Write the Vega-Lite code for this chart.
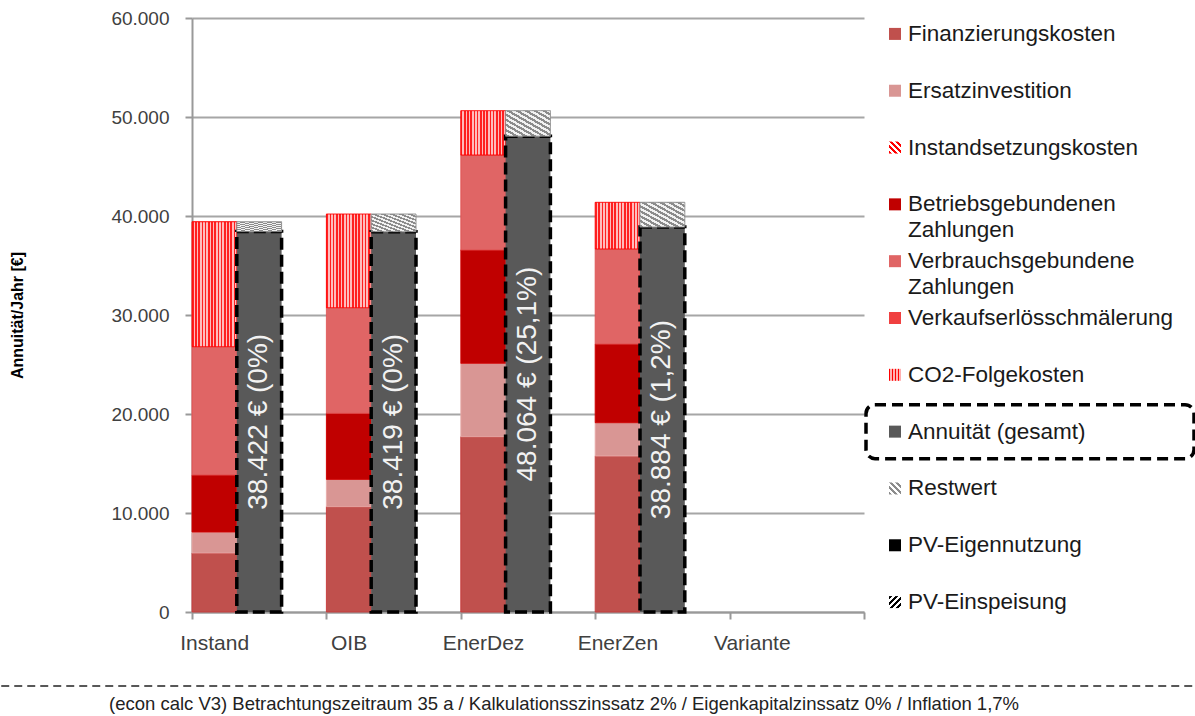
{
  "$schema": "https://vega.github.io/schema/vega-lite/v6.json",
  "padding": {"left": 0, "top": 9, "right": 0, "bottom": 0},
  "background": "white",
  "config": {
    "font": "Liberation Sans",
    "view": {"stroke": null},
    "locale": {"number": {"decimal": ",", "thousands": ".", "grouping": [3], "currency": ["", " €"]}}
  },
  "datasets": {
    "kosten": [
      {"variante": "Instand", "gruppe": "Kosten", "kategorie": "Finanzierungskosten", "nr": 1, "wert": 5960},
      {"variante": "Instand", "gruppe": "Kosten", "kategorie": "Ersatzinvestition", "nr": 2, "wert": 2120},
      {"variante": "Instand", "gruppe": "Kosten", "kategorie": "Betriebsgebundenen Zahlungen", "nr": 4, "wert": 5760},
      {"variante": "Instand", "gruppe": "Kosten", "kategorie": "Verbrauchsgebundene Zahlungen", "nr": 5, "wert": 12960},
      {"variante": "Instand", "gruppe": "Kosten", "kategorie": "CO2-Folgekosten", "nr": 7, "wert": 12620},
      {"variante": "Instand", "gruppe": "Annuität", "kategorie": "Annuität (gesamt)", "nr": 8, "wert": 38422, "label": "38.422 € (0%)"},
      {"variante": "Instand", "gruppe": "Annuität", "kategorie": "Restwert", "nr": 9, "wert": 1000},
      {"variante": "OIB", "gruppe": "Kosten", "kategorie": "Finanzierungskosten", "nr": 1, "wert": 10640},
      {"variante": "OIB", "gruppe": "Kosten", "kategorie": "Ersatzinvestition", "nr": 2, "wert": 2760},
      {"variante": "OIB", "gruppe": "Kosten", "kategorie": "Betriebsgebundenen Zahlungen", "nr": 4, "wert": 6670},
      {"variante": "OIB", "gruppe": "Kosten", "kategorie": "Verbrauchsgebundene Zahlungen", "nr": 5, "wert": 10670},
      {"variante": "OIB", "gruppe": "Kosten", "kategorie": "CO2-Folgekosten", "nr": 7, "wert": 9460},
      {"variante": "OIB", "gruppe": "Annuität", "kategorie": "Annuität (gesamt)", "nr": 8, "wert": 38419, "label": "38.419 € (0%)"},
      {"variante": "OIB", "gruppe": "Annuität", "kategorie": "Restwert", "nr": 9, "wert": 1780},
      {"variante": "EnerDez", "gruppe": "Kosten", "kategorie": "Finanzierungskosten", "nr": 1, "wert": 17710},
      {"variante": "EnerDez", "gruppe": "Kosten", "kategorie": "Ersatzinvestition", "nr": 2, "wert": 7410},
      {"variante": "EnerDez", "gruppe": "Kosten", "kategorie": "Betriebsgebundenen Zahlungen", "nr": 4, "wert": 11450},
      {"variante": "EnerDez", "gruppe": "Kosten", "kategorie": "Verbrauchsgebundene Zahlungen", "nr": 5, "wert": 9590},
      {"variante": "EnerDez", "gruppe": "Kosten", "kategorie": "CO2-Folgekosten", "nr": 7, "wert": 4480},
      {"variante": "EnerDez", "gruppe": "Annuität", "kategorie": "Annuität (gesamt)", "nr": 8, "wert": 48064, "label": "48.064 € (25,1%)"},
      {"variante": "EnerDez", "gruppe": "Annuität", "kategorie": "Restwert", "nr": 9, "wert": 2580},
      {"variante": "EnerZen", "gruppe": "Kosten", "kategorie": "Finanzierungskosten", "nr": 1, "wert": 15760},
      {"variante": "EnerZen", "gruppe": "Kosten", "kategorie": "Ersatzinvestition", "nr": 2, "wert": 3360},
      {"variante": "EnerZen", "gruppe": "Kosten", "kategorie": "Betriebsgebundenen Zahlungen", "nr": 4, "wert": 7950},
      {"variante": "EnerZen", "gruppe": "Kosten", "kategorie": "Verbrauchsgebundene Zahlungen", "nr": 5, "wert": 9600},
      {"variante": "EnerZen", "gruppe": "Kosten", "kategorie": "CO2-Folgekosten", "nr": 7, "wert": 4710},
      {"variante": "EnerZen", "gruppe": "Annuität", "kategorie": "Annuität (gesamt)", "nr": 8, "wert": 38884, "label": "38.884 € (1,2%)"},
      {"variante": "EnerZen", "gruppe": "Annuität", "kategorie": "Restwert", "nr": 9, "wert": 2500}
    ],
    "legende": [
      {"kategorie": "Finanzierungskosten", "beschriftung": "Finanzierungskosten"},
      {"kategorie": "Ersatzinvestition", "beschriftung": "Ersatzinvestition"},
      {"kategorie": "Instandsetzungskosten", "beschriftung": "Instandsetzungskosten"},
      {"kategorie": "Betriebsgebundenen Zahlungen", "beschriftung": "Betriebsgebundenen\nZahlungen"},
      {"kategorie": "Verbrauchsgebundene Zahlungen", "beschriftung": "Verbrauchsgebundene\nZahlungen"},
      {"kategorie": "Verkaufserlösschmälerung", "beschriftung": "Verkaufserlösschmälerung"},
      {"kategorie": "CO2-Folgekosten", "beschriftung": "CO2-Folgekosten"},
      {"kategorie": "Annuität (gesamt)", "beschriftung": "Annuität (gesamt)"},
      {"kategorie": "Restwert", "beschriftung": "Restwert"},
      {"kategorie": "PV-Eigennutzung", "beschriftung": "PV-Eigennutzung"},
      {"kategorie": "PV-Einspeisung", "beschriftung": "PV-Einspeisung"}
    ]
  },
  "vconcat": [
    {
      "hconcat": [
        {
          "width": 672,
          "height": 594,
          "data": {"name": "kosten"},
          "layer": [
            {
              "mark": {"type": "bar"},
              "encoding": {
                "x": {
                  "field": "variante", "type": "nominal", "title": null,
                  "scale": {"domain": ["Instand", "OIB", "EnerDez", "EnerZen", "Variante"], "paddingInner": 0, "paddingOuter": 0},
                  "axis": {"labelFontSize": 21, "labelColor": "#404040", "labelOffset": -45, "labelPadding": 13, "labelAngle": 0, "tickBand": "extent", "tickSize": 7, "tickColor": "#999999", "tickWidth": 2, "domainColor": "#999999", "domainWidth": 2, "grid": false}
                },
                "xOffset": {
                  "field": "gruppe", "type": "nominal",
                  "scale": {"domain": ["Kosten", "Annuität", "PV"], "paddingInner": 0, "paddingOuter": 0}
                },
                "y": {
                  "field": "wert", "type": "quantitative", "stack": "zero", "title": "Annuität/Jahr [€]",
                  "scale": {"domain": [0, 60000], "nice": false},
                  "axis": {"values": [0, 10000, 20000, 30000, 40000, 50000, 60000], "format": ",d", "labelFontSize": 19, "labelColor": "#404040", "labelPadding": 16, "tickSize": 7, "tickColor": "#999999", "tickWidth": 2, "domainColor": "#999999", "domainWidth": 2, "gridColor": "#a6a6a6", "gridWidth": 2, "titleFontSize": 16, "titleFontWeight": "bold", "titleColor": "#000000", "titlePadding": 85}
                },
                "color": {
                  "field": "kategorie", "type": "nominal", "legend": null,
                  "scale": {
                    "domain": ["Finanzierungskosten", "Ersatzinvestition", "Instandsetzungskosten", "Betriebsgebundenen Zahlungen", "Verbrauchsgebundene Zahlungen", "Verkaufserlösschmälerung", "CO2-Folgekosten", "Annuität (gesamt)", "Restwert", "PV-Eigennutzung", "PV-Einspeisung"],
                    "range": ["#c0504d", "#d99694", "#ff8080", "#c00000", "#e06565", "#f04040", "#ff6e6e", "#595959", "#c0c0c0", "#000000", "#808080"]
                  },
                  "condition": [
                    {"test": "datum.kategorie === 'CO2-Folgekosten'", "value": {"gradient": "linear", "x1": 0, "y1": 0, "x2": 1, "y2": 0, "stops": [
                        {"offset": 0, "color": "#ff2020"}, {"offset": 0.0357, "color": "#ff2020"}, {"offset": 0.0357, "color": "#ffbcbc"}, {"offset": 0.0714, "color": "#ffbcbc"},
                        {"offset": 0.0714, "color": "#ff2020"}, {"offset": 0.1071, "color": "#ff2020"}, {"offset": 0.1071, "color": "#ffbcbc"}, {"offset": 0.1429, "color": "#ffbcbc"},
                        {"offset": 0.1429, "color": "#ff2020"}, {"offset": 0.1786, "color": "#ff2020"}, {"offset": 0.1786, "color": "#ffbcbc"}, {"offset": 0.2143, "color": "#ffbcbc"},
                        {"offset": 0.2143, "color": "#ff2020"}, {"offset": 0.25, "color": "#ff2020"}, {"offset": 0.25, "color": "#ffbcbc"}, {"offset": 0.2857, "color": "#ffbcbc"},
                        {"offset": 0.2857, "color": "#ff2020"}, {"offset": 0.3214, "color": "#ff2020"}, {"offset": 0.3214, "color": "#ffbcbc"}, {"offset": 0.3571, "color": "#ffbcbc"},
                        {"offset": 0.3571, "color": "#ff2020"}, {"offset": 0.3929, "color": "#ff2020"}, {"offset": 0.3929, "color": "#ffbcbc"}, {"offset": 0.4286, "color": "#ffbcbc"},
                        {"offset": 0.4286, "color": "#ff2020"}, {"offset": 0.4643, "color": "#ff2020"}, {"offset": 0.4643, "color": "#ffbcbc"}, {"offset": 0.5, "color": "#ffbcbc"},
                        {"offset": 0.5, "color": "#ff2020"}, {"offset": 0.5357, "color": "#ff2020"}, {"offset": 0.5357, "color": "#ffbcbc"}, {"offset": 0.5714, "color": "#ffbcbc"},
                        {"offset": 0.5714, "color": "#ff2020"}, {"offset": 0.6071, "color": "#ff2020"}, {"offset": 0.6071, "color": "#ffbcbc"}, {"offset": 0.6429, "color": "#ffbcbc"},
                        {"offset": 0.6429, "color": "#ff2020"}, {"offset": 0.6786, "color": "#ff2020"}, {"offset": 0.6786, "color": "#ffbcbc"}, {"offset": 0.7143, "color": "#ffbcbc"},
                        {"offset": 0.7143, "color": "#ff2020"}, {"offset": 0.75, "color": "#ff2020"}, {"offset": 0.75, "color": "#ffbcbc"}, {"offset": 0.7857, "color": "#ffbcbc"},
                        {"offset": 0.7857, "color": "#ff2020"}, {"offset": 0.8214, "color": "#ff2020"}, {"offset": 0.8214, "color": "#ffbcbc"}, {"offset": 0.8571, "color": "#ffbcbc"},
                        {"offset": 0.8571, "color": "#ff2020"}, {"offset": 0.8929, "color": "#ff2020"}, {"offset": 0.8929, "color": "#ffbcbc"}, {"offset": 0.9286, "color": "#ffbcbc"},
                        {"offset": 0.9286, "color": "#ff2020"}, {"offset": 0.9643, "color": "#ff2020"}, {"offset": 0.9643, "color": "#ffbcbc"}, {"offset": 1, "color": "#ffbcbc"}]}},
                    {"test": "datum.kategorie === 'Restwert'", "value": {"gradient": "linear", "x1": 0, "y1": 1, "x2": 1, "y2": 0, "stops": [
                        {"offset": 0, "color": "#8c8c8c"}, {"offset": 0.05, "color": "#8c8c8c"}, {"offset": 0.05, "color": "#f2f2f2"}, {"offset": 0.1, "color": "#f2f2f2"},
                        {"offset": 0.1, "color": "#8c8c8c"}, {"offset": 0.15, "color": "#8c8c8c"}, {"offset": 0.15, "color": "#f2f2f2"}, {"offset": 0.2, "color": "#f2f2f2"},
                        {"offset": 0.2, "color": "#8c8c8c"}, {"offset": 0.25, "color": "#8c8c8c"}, {"offset": 0.25, "color": "#f2f2f2"}, {"offset": 0.3, "color": "#f2f2f2"},
                        {"offset": 0.3, "color": "#8c8c8c"}, {"offset": 0.35, "color": "#8c8c8c"}, {"offset": 0.35, "color": "#f2f2f2"}, {"offset": 0.4, "color": "#f2f2f2"},
                        {"offset": 0.4, "color": "#8c8c8c"}, {"offset": 0.45, "color": "#8c8c8c"}, {"offset": 0.45, "color": "#f2f2f2"}, {"offset": 0.5, "color": "#f2f2f2"},
                        {"offset": 0.5, "color": "#8c8c8c"}, {"offset": 0.55, "color": "#8c8c8c"}, {"offset": 0.55, "color": "#f2f2f2"}, {"offset": 0.6, "color": "#f2f2f2"},
                        {"offset": 0.6, "color": "#8c8c8c"}, {"offset": 0.65, "color": "#8c8c8c"}, {"offset": 0.65, "color": "#f2f2f2"}, {"offset": 0.7, "color": "#f2f2f2"},
                        {"offset": 0.7, "color": "#8c8c8c"}, {"offset": 0.75, "color": "#8c8c8c"}, {"offset": 0.75, "color": "#f2f2f2"}, {"offset": 0.8, "color": "#f2f2f2"},
                        {"offset": 0.8, "color": "#8c8c8c"}, {"offset": 0.85, "color": "#8c8c8c"}, {"offset": 0.85, "color": "#f2f2f2"}, {"offset": 0.9, "color": "#f2f2f2"},
                        {"offset": 0.9, "color": "#8c8c8c"}, {"offset": 0.95, "color": "#8c8c8c"}, {"offset": 0.95, "color": "#f2f2f2"}, {"offset": 1, "color": "#f2f2f2"}]}}
                  ]
                },
                "order": {"field": "nr", "type": "quantitative"},
                "stroke": {
                  "field": "kategorie", "type": "nominal", "legend": null,
                  "scale": {
                    "domain": ["Finanzierungskosten", "Ersatzinvestition", "Betriebsgebundenen Zahlungen", "Verbrauchsgebundene Zahlungen", "CO2-Folgekosten", "Annuität (gesamt)", "Restwert"],
                    "range": ["#c83c3c", "#e8a8a6", "#d00000", "#e05050", "#ff0000", "#000000", "#8c8c8c"]
                  }
                },
                "strokeWidth": {"condition": {"test": "datum.kategorie === 'Annuität (gesamt)'", "value": 3.5}, "value": 1},
                "strokeDash": {"condition": {"test": "datum.kategorie === 'Annuität (gesamt)'", "value": [12, 5]}, "value": [1, 0]}
              }
            },
            {
              "transform": [{"filter": "datum.kategorie === 'Annuität (gesamt)'"}],
              "mark": {"type": "text", "angle": 270, "fontSize": 28, "color": "#f2f2f2", "align": "center", "baseline": "middle"},
              "encoding": {
                "x": {"field": "variante", "type": "nominal"},
                "xOffset": {"field": "gruppe", "type": "nominal"},
                "y": {"field": "wert", "type": "quantitative", "stack": null, "scale": {"domain": [0, 120000], "nice": false}, "axis": null},
                "text": {"field": "label", "type": "nominal"}
              }
            }
          ],
          "resolve": {"scale": {"y": "independent"}}
        },
        {
          "width": 328,
          "height": 600,
          "data": {"name": "legende"},
          "layer": [
            {
              "transform": [{"filter": "datum.kategorie === 'Annuität (gesamt)'"}],
              "mark": {"type": "bar", "height": 54, "fill": "transparent", "stroke": "#000000", "strokeWidth": 3.5, "strokeDash": [11, 6], "cornerRadius": 9},
              "encoding": {
                "x": {"datum": 0, "type": "quantitative", "scale": {"domain": [0, 1], "nice": false}, "axis": null},
                "x2": {"datum": 1},
                "y": {
                  "field": "kategorie", "type": "nominal", "axis": null,
                  "scale": {"type": "point", "padding": 0.28, "domain": ["Finanzierungskosten", "Ersatzinvestition", "Instandsetzungskosten", "Betriebsgebundenen Zahlungen", "Verbrauchsgebundene Zahlungen", "Verkaufserlösschmälerung", "CO2-Folgekosten", "Annuität (gesamt)", "Restwert", "PV-Eigennutzung", "PV-Einspeisung"]}
                }
              }
            },
            {
              "mark": {"type": "point", "shape": "square", "filled": true, "size": 144, "opacity": 1},
              "encoding": {
                "x": {"datum": 0.0884, "type": "quantitative"},
                "y": {"field": "kategorie", "type": "nominal"},
                "color": {
                  "field": "kategorie", "type": "nominal", "legend": null,
                  "condition": [
                    {"test": "datum.kategorie === 'Instandsetzungskosten'", "value": {"gradient": "linear", "x1": 0, "y1": 1, "x2": 1, "y2": 0, "stops": [
                      {"offset": 0, "color": "#ff0000"}, {"offset": 0.125, "color": "#ff0000"}, {"offset": 0.125, "color": "#ffffff"}, {"offset": 0.25, "color": "#ffffff"},
                      {"offset": 0.25, "color": "#ff0000"}, {"offset": 0.375, "color": "#ff0000"}, {"offset": 0.375, "color": "#ffffff"}, {"offset": 0.5, "color": "#ffffff"},
                      {"offset": 0.5, "color": "#ff0000"}, {"offset": 0.625, "color": "#ff0000"}, {"offset": 0.625, "color": "#ffffff"}, {"offset": 0.75, "color": "#ffffff"},
                      {"offset": 0.75, "color": "#ff0000"}, {"offset": 0.875, "color": "#ff0000"}, {"offset": 0.875, "color": "#ffffff"}, {"offset": 1, "color": "#ffffff"}]}},
                    {"test": "datum.kategorie === 'CO2-Folgekosten'", "value": {"gradient": "linear", "x1": 0, "y1": 0, "x2": 1, "y2": 0, "stops": [
                      {"offset": 0, "color": "#ff0000"}, {"offset": 0.125, "color": "#ff0000"}, {"offset": 0.125, "color": "#ffb0b0"}, {"offset": 0.25, "color": "#ffb0b0"},
                      {"offset": 0.25, "color": "#ff0000"}, {"offset": 0.375, "color": "#ff0000"}, {"offset": 0.375, "color": "#ffb0b0"}, {"offset": 0.5, "color": "#ffb0b0"},
                      {"offset": 0.5, "color": "#ff0000"}, {"offset": 0.625, "color": "#ff0000"}, {"offset": 0.625, "color": "#ffb0b0"}, {"offset": 0.75, "color": "#ffb0b0"},
                      {"offset": 0.75, "color": "#ff0000"}, {"offset": 0.875, "color": "#ff0000"}, {"offset": 0.875, "color": "#ffb0b0"}, {"offset": 1, "color": "#ffb0b0"}]}},
                    {"test": "datum.kategorie === 'Restwert'", "value": {"gradient": "linear", "x1": 0, "y1": 1, "x2": 1, "y2": 0, "stops": [
                      {"offset": 0, "color": "#8c8c8c"}, {"offset": 0.125, "color": "#8c8c8c"}, {"offset": 0.125, "color": "#ffffff"}, {"offset": 0.25, "color": "#ffffff"},
                      {"offset": 0.25, "color": "#8c8c8c"}, {"offset": 0.375, "color": "#8c8c8c"}, {"offset": 0.375, "color": "#ffffff"}, {"offset": 0.5, "color": "#ffffff"},
                      {"offset": 0.5, "color": "#8c8c8c"}, {"offset": 0.625, "color": "#8c8c8c"}, {"offset": 0.625, "color": "#ffffff"}, {"offset": 0.75, "color": "#ffffff"},
                      {"offset": 0.75, "color": "#8c8c8c"}, {"offset": 0.875, "color": "#8c8c8c"}, {"offset": 0.875, "color": "#ffffff"}, {"offset": 1, "color": "#ffffff"}]}},
                    {"test": "datum.kategorie === 'PV-Einspeisung'", "value": {"gradient": "linear", "x1": 0, "y1": 0, "x2": 1, "y2": 1, "stops": [
                      {"offset": 0, "color": "#000000"}, {"offset": 0.125, "color": "#000000"}, {"offset": 0.125, "color": "#ffffff"}, {"offset": 0.25, "color": "#ffffff"},
                      {"offset": 0.25, "color": "#000000"}, {"offset": 0.375, "color": "#000000"}, {"offset": 0.375, "color": "#ffffff"}, {"offset": 0.5, "color": "#ffffff"},
                      {"offset": 0.5, "color": "#000000"}, {"offset": 0.625, "color": "#000000"}, {"offset": 0.625, "color": "#ffffff"}, {"offset": 0.75, "color": "#ffffff"},
                      {"offset": 0.75, "color": "#000000"}, {"offset": 0.875, "color": "#000000"}, {"offset": 0.875, "color": "#ffffff"}, {"offset": 1, "color": "#ffffff"}]}}
                  ]
                }
              }
            },
            {
              "mark": {"type": "text", "align": "left", "baseline": "top", "dy": -11, "fontSize": 22.5, "lineHeight": 26, "lineBreak": "\n", "color": "#1a1a1a"},
              "encoding": {
                "x": {"datum": 0.128, "type": "quantitative"},
                "y": {"field": "kategorie", "type": "nominal"},
                "text": {"field": "beschriftung", "type": "nominal"}
              }
            }
          ]
        }
      ],
      "spacing": 2,
      "bounds": "flush"
    },
    {
      "width": 1004,
      "height": 1,
      "data": {"values": [{"linie": "Fußzeile"}]},
      "mark": {"type": "rule", "strokeDash": [8, 5], "strokeWidth": 1.5, "color": "#222222"},
      "encoding": {
        "x": {"datum": -0.19, "type": "quantitative", "scale": {"domain": [0, 1], "nice": false}, "axis": null},
        "x2": {"datum": 1},
        "y": {"datum": 0, "type": "quantitative", "scale": {"domain": [0, 1]}, "axis": null}
      },
      "title": {"text": "(econ calc V3) Betrachtungszeitraum 35 a / Kalkulationsszinssatz 2% / Eigenkapitalzinssatz 0% / Inflation 1,7%", "orient": "bottom", "anchor": "middle", "dx": -130, "offset": 8, "fontSize": 18.5, "fontWeight": "normal", "color": "#222222"}
    }
  ],
  "spacing": 32
}
